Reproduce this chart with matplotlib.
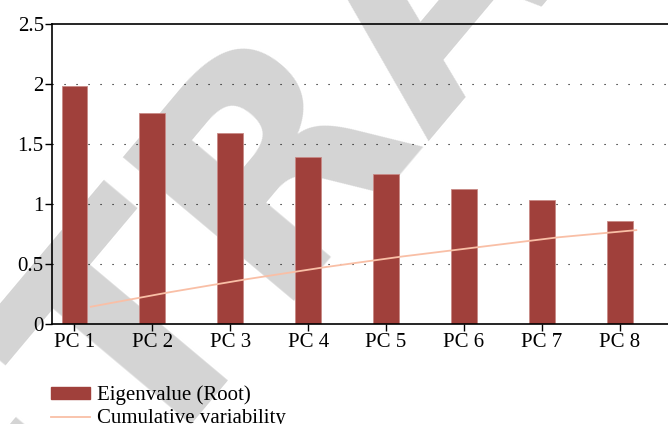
import matplotlib.pyplot as plt
from matplotlib.lines import Line2D
from matplotlib.patches import Patch


# values
components = ["PC 1", "PC 2", "PC 3", "PC 4", "PC 5", "PC 6", "PC 7", "PC 8"]
eigenvalues = [1.98, 1.76, 1.59, 1.39, 1.25, 1.12, 1.03, 0.86]
cumulative = [0.14, 0.26, 0.37, 0.47, 0.56, 0.64, 0.72, 0.78]
y_ticks = [0, 0.5, 1, 1.5, 2, 2.5]
y_tick_labels = ["0", "0.5", "1", "1.5", "2", "2.5"]

BAR_COLOR = "#a0403b"
LINE_COLOR = "#f9bfa6"
SERIF = "Liberation Serif"


def main():
    plt.rcParams["font.family"] = SERIF
    fig = plt.figure(figsize=(6.68, 4.24), dpi=100)
    ax = fig.add_axes([0.078, 0.237, 0.922, 0.706])
    ax.patch.set_visible(False)

    # retraction stamp behind the chart, mostly outside the canvas
    fig.text(-0.2275, -0.887, "RETRACTED", rotation=50, rotation_mode="anchor",
             ha="left", va="baseline", fontsize=220, fontweight="bold",
             family="DejaVu Sans", color="#d4d4d4", zorder=-1)

    x = list(range(len(components)))
    ax.bar(x, eigenvalues, width=0.33, color=BAR_COLOR, edgecolor="#c98a86",
           linewidth=0.6, zorder=2)
    ax.plot([i + 0.21 for i in x], cumulative, color=LINE_COLOR, linewidth=1.3,
            zorder=3)

    for y in y_ticks[1:-1]:
        ax.axhline(y, color="black", linewidth=0.8, linestyle=(0, (1, 9.8)),
                   zorder=1)

    ax.set_xlim(-0.286, 7.617)
    ax.set_ylim(0, 2.5)
    ax.set_xticks(x)
    ax.set_xticklabels(components)
    ax.set_yticks(y_ticks)
    ax.set_yticklabels(y_tick_labels)
    ax.tick_params(axis="both", labelsize=15, direction="out", length=5,
                   width=1, colors="black")
    ax.tick_params(axis="x", pad=2)
    ax.tick_params(axis="y", pad=1)
    ax.spines["right"].set_visible(False)
    for side in ["left", "bottom", "top"]:
        ax.spines[side].set_linewidth(1.2)

    handles = [
        Patch(facecolor=BAR_COLOR, edgecolor=BAR_COLOR),
        Line2D([0], [0], color=LINE_COLOR, linewidth=1.3),
    ]
    fig.legend(handles, ["Eigenvalue (Root)", "Cumulative variability"],
               loc="upper left", bbox_to_anchor=(0.077, 0.091),
               frameon=False, fontsize=15, handlelength=1.85,
               handleheight=0.53, handletextpad=0.32, labelspacing=0.2,
               borderpad=0, borderaxespad=0)

    fig.savefig("out.png", dpi=100)
    plt.close(fig)


if __name__ == "__main__":
    main()
